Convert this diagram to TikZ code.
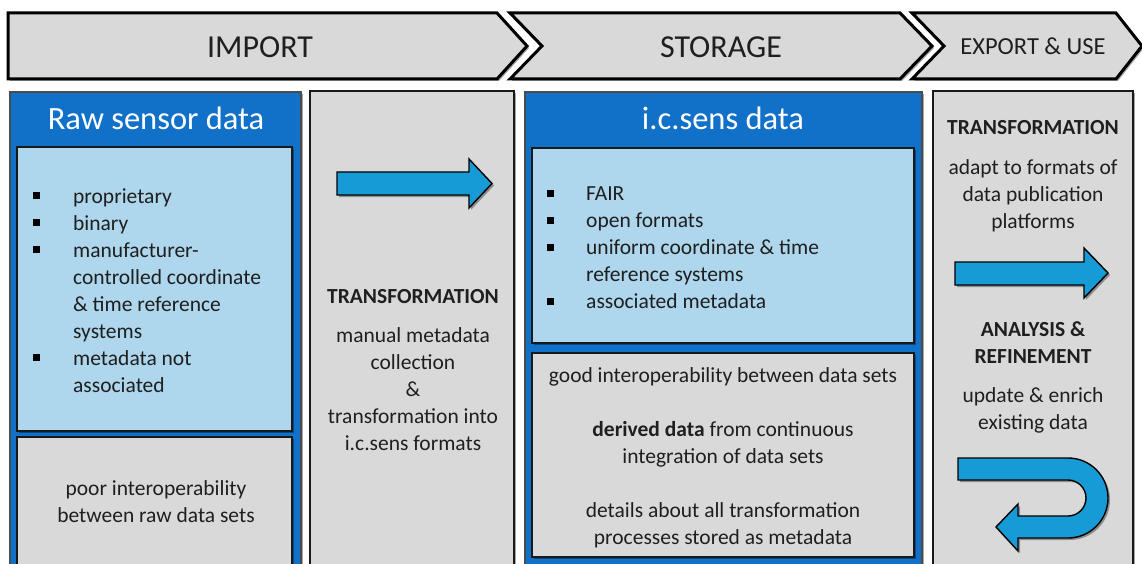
\documentclass[tikz,border=0pt]{standalone}
\usepackage{fontspec}
\setmainfont{Carlito}
\usetikzlibrary{shadows}
\definecolor{frameblue}{HTML}{1170C8}
\definecolor{lightblue}{HTML}{AED6EC}
\definecolor{boxgray}{HTML}{D9D9D9}
\definecolor{arrowblue}{HTML}{179BD6}
\definecolor{txt}{HTML}{1F1F1F}
\begin{document}
\begin{tikzpicture}[x=1pt,y=-1pt,
  shad/.style={drop shadow={shadow xshift=2pt,shadow yshift=-2pt,opacity=0.35,fill=black}},
  chev/.style={fill=boxgray,draw=black,line width=3pt,line join=miter,shad},
  frame/.style={fill=frameblue,draw=black!70,line width=1.6pt,shad},
  inbox/.style={fill=lightblue,draw=black!90,line width=1.6pt,shad},
  graybox/.style={fill=boxgray,draw=black!90,line width=1.6pt,shad},
  bigarrow/.style={fill=arrowblue,draw=black,line width=1.4pt,line join=miter,shad},
  head/.style={font=\fontsize{32}{38}\selectfont,text=txt,inner sep=0,anchor=base},
  title/.style={font=\fontsize{32.5}{38}\selectfont,text=white,inner sep=0,anchor=base},
  body/.style={font=\fontsize{21.5}{27}\selectfont,text=txt,inner sep=0,align=center,anchor=base},
  bodyb/.style={body,font=\fontsize{21.5}{27}\selectfont\bfseries},
  blist/.style={font=\fontsize{21.5}{27}\selectfont,text=txt,inner sep=0,align=left,anchor=base west},
  bul/.style={fill=black}
]
\useasboundingbox (0,0) rectangle (1142,564);
\fill[white] (0,0) rectangle (1142,564);

% chevrons
\draw[chev] (8,13) -- (497,13) -- (527,46) -- (497,79) -- (8,79) -- cycle;
\draw[chev] (510,13) -- (900,13) -- (932,46) -- (900,79) -- (510,79) -- (542,46) -- cycle;
\draw[chev] (912,13) -- (1116,13) -- (1142,46) -- (1116,79) -- (912,79) -- (944,46) -- cycle;
\node[head] (imp) at (260,58) {IMPORT};
\node[head] (sto) at (721,58) {STORAGE};
\node[head,font=\fontsize{24.5}{30}\selectfont] (exp) at (1033,55) {EXPORT \& USE};

% left column
\draw[frame] (10,92) rectangle (301,580);
\node[title] (rawt) at (156,130) {Raw sensor data};
\draw[inbox] (17,147) rectangle (292,431);
\draw[graybox] (17,437) rectangle (292,575);
\node[blist] (rawl) at (73,392) {proprietary\\binary\\manufacturer-\\controlled coordinate\\\& time reference\\systems\\metadata not\\associated};
\foreach \yy in {195,222,249,357} \fill[bul] (33,\yy-3.5) rectangle (40,\yy+3.5);
\node[body] (poor) at (156,522) {poor interoperability\\between raw data sets};

% middle column
\draw[graybox] (310,91) rectangle (514,580);
\draw[bigarrow] (337,172) -- (469,172) -- (469,159) -- (492,183.5) -- (469,208) -- (469,195) -- (337,195) -- cycle;
\node[bodyb] (tr1) at (413,303) {TRANSFORMATION};
\node[body] (tr1t) at (413,450) {manual metadata\\collection\\\&\\transformation into\\i.c.sens formats};

% storage column
\draw[frame] (525,92) rectangle (922,580);
\node[title] (icst) at (723,130) {i.c.sens data};
\draw[inbox] (532,148) rectangle (914,343);
\draw[graybox] (532,353) rectangle (914,557);
\node[blist] (icsl) at (586,308) {FAIR\\open formats\\uniform coordinate \& time\\reference systems\\associated metadata};
\foreach \yy in {193,220,247,301} \fill[bul] (547,\yy-3.5) rectangle (554,\yy+3.5);
\node[body] (good) at (723,382) {good interoperability between data sets};
\node[body] (deriv) at (723,463) {\textbf{derived data} from continuous\\integration of data sets};
\node[body] (det) at (723,544) {details about all transformation\\processes stored as metadata};

% export column
\draw[graybox] (933,91) rectangle (1133,580);
\node[bodyb] (tr2) at (1033,135) {TRANSFORMATION};
\node[body] (tr2t) at (1033,228) {adapt to formats of\\data publication\\platforms};
\draw[bigarrow] (955,262) -- (1084,262) -- (1084,248) -- (1108,273) -- (1084,298) -- (1084,285) -- (955,285) -- cycle;
\node[bodyb] (ana) at (1033,363) {ANALYSIS \&\\REFINEMENT};
\node[body] (anat) at (1033,429) {update \& enrich\\existing data};
\draw[bigarrow] (958,458) -- (1068,458) arc[start angle=-90,end angle=90,radius=40]
  -- (1018,538) -- (1018,551) -- (996,527) -- (1018,504) -- (1018,516) -- (1068,516)
  arc[start angle=90,end angle=-90,radius=18] -- (958,480) -- cycle;
\end{tikzpicture}
\end{document}
